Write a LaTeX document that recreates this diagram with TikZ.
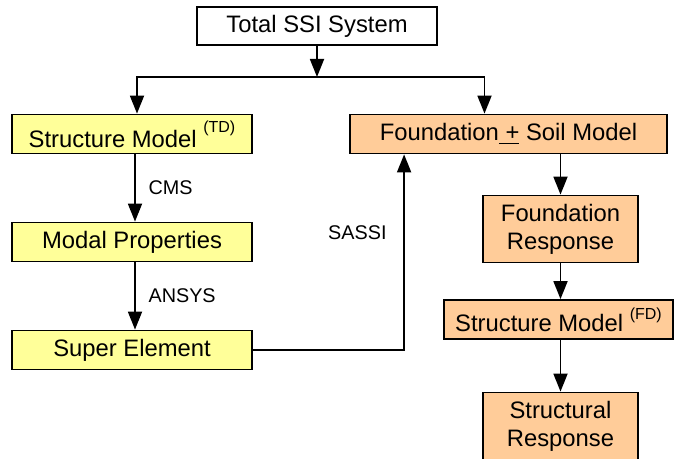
\documentclass[tikz,border=0pt]{standalone}
\usepackage{fontspec}
\setmainfont{Liberation Sans}
\usetikzlibrary{shapes.geometric, arrows.meta}
\definecolor{paleyellow}{RGB}{255,255,153}
\definecolor{paleorange}{RGB}{255,204,153}
\newcommand{\modeltag}[2]{\raisebox{#1}{\fontsize{8}{9}\selectfont(#2)}}
\tikzstyle{topbox} = [rectangle, 
minimum width=120pt, 
minimum height=19pt,
inner sep=0pt,
text centered, 
draw=black, line width=0.9pt,
fill=white]
\tikzstyle{tdbox} = [rectangle, 
minimum width=120pt, 
minimum height=19.5pt, 
inner sep=0pt,
text centered, 
draw=black, line width=0.9pt,
fill=paleyellow]
\tikzstyle{fdbox} = [rectangle, 
minimum height=19.5pt, 
inner sep=0pt,
text centered, 
draw=black, line width=0.9pt,
fill=paleorange]
\tikzstyle{fdtall} = [rectangle, 
minimum width=77.5pt, 
minimum height=33.5pt, 
inner sep=0pt,
text width=75pt,
align=center, 
draw=black, line width=0.9pt,
fill=paleorange]
\tikzstyle{arrow} = [line width=0.9pt,->,>={Triangle[length=9pt,width=7pt]}]
\tikzstyle{toollabel} = [font=\fontsize{9.9}{11}\selectfont]

\begin{document}
\begin{tikzpicture}[x=0.5pt, y=-0.5pt, node distance=54pt,
  font=\fontsize{11.9}{14}\selectfont]
\useasboundingbox (0,0) rectangle (674,459);

\node (total) [topbox] at (317,26) {Total SSI System};
\node (smodeltd) [tdbox, below of=total, xshift=-92.5pt] {Structure Model \modeltag{7.5pt}{TD}};
\node (modal) [tdbox, below of=smodeltd] {Modal Properties};
\node (superel) [tdbox, below of=modal] {Super Element};

\node (fsmodel) [fdbox, minimum width=158.5pt, below of=total, xshift=95.75pt] {Foundation\underline{\ +} Soil Model};
\node (fresp) [fdtall, below of=fsmodel, xshift=26pt, yshift=6.5pt] {Foundation\\Response};
\node (smodelfd) [fdbox, minimum width=114.5pt, below of=fresp, xshift=-1pt, yshift=8.75pt] {Structure Model \modeltag{6pt}{FD}};
\node (sresp) [fdtall, below of=smodelfd, xshift=1pt, yshift=0.75pt] {Structural\\Response};

\coordinate (split) at (317,77);
\draw [arrow] (total) -- (split);
\draw [arrow] (split) -| ([xshift=2.5pt]smodeltd.north);
\draw [arrow] (split) -| ([xshift=-12pt]fsmodel.north);
\draw [arrow] ([xshift=1.5pt]smodeltd.south) -- node[toollabel, anchor=west, xshift=3pt] {CMS} ([xshift=1.5pt]modal.north);
\draw [arrow] ([xshift=1.5pt]modal.south) -- node[toollabel, anchor=west, xshift=3pt] {ANSYS} ([xshift=1.5pt]superel.north);
\draw [arrow] (superel.east) -| node[toollabel, pos=0.8, anchor=east, xshift=-5pt] {SASSI} ([xshift=27.5pt]fsmodel.south west);
\draw [arrow] (fsmodel.south -| fresp.north) -- (fresp.north);
\draw [arrow] (fresp.south) -- (fresp.south |- smodelfd.north);
\draw [arrow] (fresp.south |- smodelfd.south) -- (sresp.north);

\end{tikzpicture}
\end{document}
